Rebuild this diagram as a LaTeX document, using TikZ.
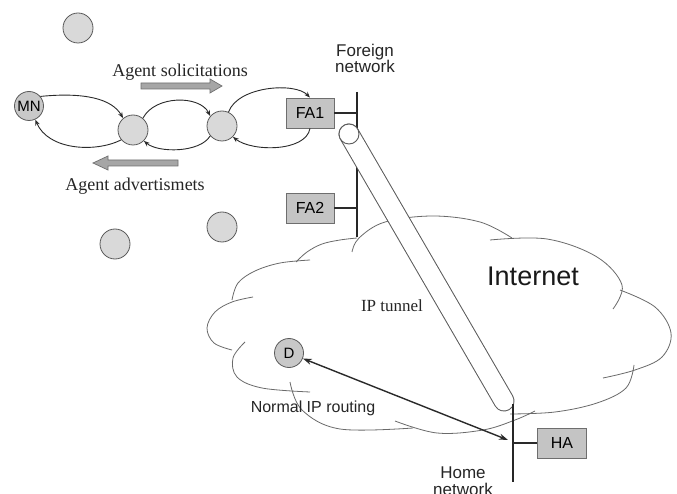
\documentclass[tikz,border=0pt]{standalone}
\usepackage{fontspec}
\setmainfont{Liberation Serif}
\setsansfont{Liberation Sans}
\usetikzlibrary{arrows.meta}

\definecolor{edgegray}{HTML}{5A5A5A}
\definecolor{hostfill}{HTML}{D9D9D9}
\definecolor{mnfill}{HTML}{C8C8C8}
\definecolor{boxfill}{HTML}{C4C4C4}
\definecolor{boxedge}{HTML}{6E6E6E}
\definecolor{linecol}{HTML}{2A2A2A}
\definecolor{cloudcol}{HTML}{6A6A6A}
\definecolor{arrowfill}{HTML}{A6A6A6}
\definecolor{arrowedge}{HTML}{707070}

\tikzset{
  host/.style={circle, draw=edgegray, fill=hostfill, line width=0.8pt,
               minimum size=30pt, inner sep=0pt},
  mobile/.style={host, fill=mnfill, minimum size=29pt,
                 font=\sffamily\fontsize{15}{15}\selectfont},
  agent/.style={rectangle, draw=boxedge, fill=boxfill, line width=0.8pt,
                minimum width=48pt, minimum height=30pt, inner sep=0pt,
                font=\sffamily\fontsize{16}{16}\selectfont},
  link/.style={draw=linecol, line width=0.9pt,
               -{Stealth[length=6pt,width=4.5pt]}},
  cloudline/.style={draw=cloudcol, line width=0.8pt, smooth, tension=0.6},
  netbar/.style={draw=black!85, line width=2pt},
  blockarrow/.style={fill=arrowfill, draw=arrowedge, line width=0.7pt},
  serifnote/.style={font=\fontsize{18}{18}\selectfont, text=black!85, inner sep=0pt},
  sansnote/.style={font=\sffamily\fontsize{17}{16.5}\selectfont, text=black!85,
                   inner sep=0pt, align=center},
}

\begin{document}
\begin{tikzpicture}[x=1pt, y=-1pt]
\useasboundingbox[fill=white] (0,0) rectangle (677,494);

% ---------- Internet cloud, drawn as overlapping puffs ----------
\draw[cloudline] plot coordinates {(352,252) (359,238) (385,222) (433,216) (480,222) (512,238)};
\draw[cloudline] plot coordinates {(232,300) (238,283) (255,271) (280,263) (310,260)};
\draw[cloudline] plot coordinates {(296,262) (307,252) (322,244) (340,240) (357,238)};
\draw[cloudline] plot coordinates {(253,297) (232,302) (215,312) (207,328) (214,343) (232,350)};
\draw[cloudline] plot coordinates {(245,342) (233,358) (237,377) (262,388) (310,392)};
\draw[cloudline] plot coordinates {(290,382) (302,410) (340,429) (413,428)};
\draw[cloudline] plot coordinates {(395,421) (437,433) (483,430) (515,420) (535,411)};
\draw[cloudline] plot coordinates {(634,365) (626,388) (597,403) (555,412) (510,414)};
\draw[cloudline] plot coordinates {(620,290) (655,307) (671,333) (662,357) (635,370) (603,378)};
\draw[cloudline] plot coordinates {(490,240) (547,239) (597,257) (622,285) (613,309)};

% ---------- foreign network ----------
\coordinate (fbTop) at (357,92);
\coordinate (fbBot) at (357,237);
\draw[netbar] (fbTop) -- (fbBot);

\node[agent] (FA1) at (310,113) {FA1};
\node[agent] (FA2) at (310,208) {FA2};
\draw[linecol, line width=1.3pt] (FA1.east) -- (FA1.east -| fbTop);
\draw[linecol, line width=1.3pt] (FA2.east) -- (FA2.east -| fbTop);

\node[sansnote, anchor=base] (fnet) at (365,73) {Foreign\\network};

% ---------- IP tunnel ----------
\coordinate (tunA) at (349,134);
\coordinate (tunB) at (504,401);
\draw[edgegray, line width=21pt, line cap=round] (tunA) -- (tunB);
\draw[white, line width=19pt, line cap=round] (tunA) -- (tunB);
\node[circle, draw=edgegray, fill=white, line width=0.9pt, minimum size=20pt,
      inner sep=0pt] (tunEnd) at (tunA) {};

\node[serifnote, font=\fontsize{17}{17}\selectfont, anchor=base] (tlabel) at (392,312) {IP tunnel};

% ---------- home network ----------
\coordinate (hbTop) at (513,404);
\coordinate (hbBot) at (513,482);
\draw[netbar] (hbTop) -- (hbBot);
\node[agent, minimum width=49pt] (HA) at (562,443) {HA};
\draw[linecol, line width=1.3pt] (HA.west) -- (HA.west -| hbTop);
\node[sansnote, anchor=base] (hnet) at (463,495) {Home\\network};

\node[font=\sffamily\fontsize{27}{27}\selectfont, text=black!90, inner sep=0pt,
      anchor=base] (inet) at (533,286) {Internet};

% ---------- correspondent node and normal routing ----------
\node[mobile] (D) at (289,353) {D};
\coordinate (hbHit) at (508,440);
\draw[linecol, line width=1.4pt, {Stealth[length=9pt,width=6pt]}-{Stealth[length=9pt,width=6pt]}]
  (D) -- (hbHit);
\node[sansnote, font=\sffamily\fontsize{16}{16}\selectfont, anchor=base] (nlabel)
  at (313,412) {Normal IP routing};

% ---------- mobile node and relay hosts ----------
\node[host] (s1) at (78,28) {};
\node[host] (s2) at (115,244) {};
\node[host] (s3) at (222,227) {};
\node[mobile] (MN) at (29,106) {MN};
\node[host] (r1) at (133,130) {};
\node[host] (r2) at (222,126) {};

\draw[link] (MN.40) .. controls (85,92) and (112,99) .. (r1.130);
\draw[link] (r1.220) .. controls (95,153) and (48,150) .. (MN.-65);
\draw[link] (r1.50) .. controls (155,95) and (200,95) .. (r2.140);
\draw[link] (r2.220) .. controls (200,153) and (158,153) .. (r1.-45);
\draw[link] (r2.65) .. controls (238,86) and (295,82) .. (FA1.north);
\draw[link] (FA1.south) .. controls (306,152) and (252,152) .. (r2.-45);

% ---------- solicitation / advertisement arrows ----------
\draw[blockarrow] (141,83) -- (210,83) -- (210,79) -- (222,86) -- (210,93)
                  -- (210,89) -- (141,89) -- cycle;
\draw[blockarrow] (178,160) -- (108,160) -- (108,156) -- (93,163) -- (108,170)
                  -- (108,166) -- (178,166) -- cycle;

\node[serifnote, anchor=base] (sol) at (180,77) {Agent solicitations};
\node[serifnote, anchor=base] (adv) at (135,191) {Agent advertismets};
\end{tikzpicture}
\end{document}
